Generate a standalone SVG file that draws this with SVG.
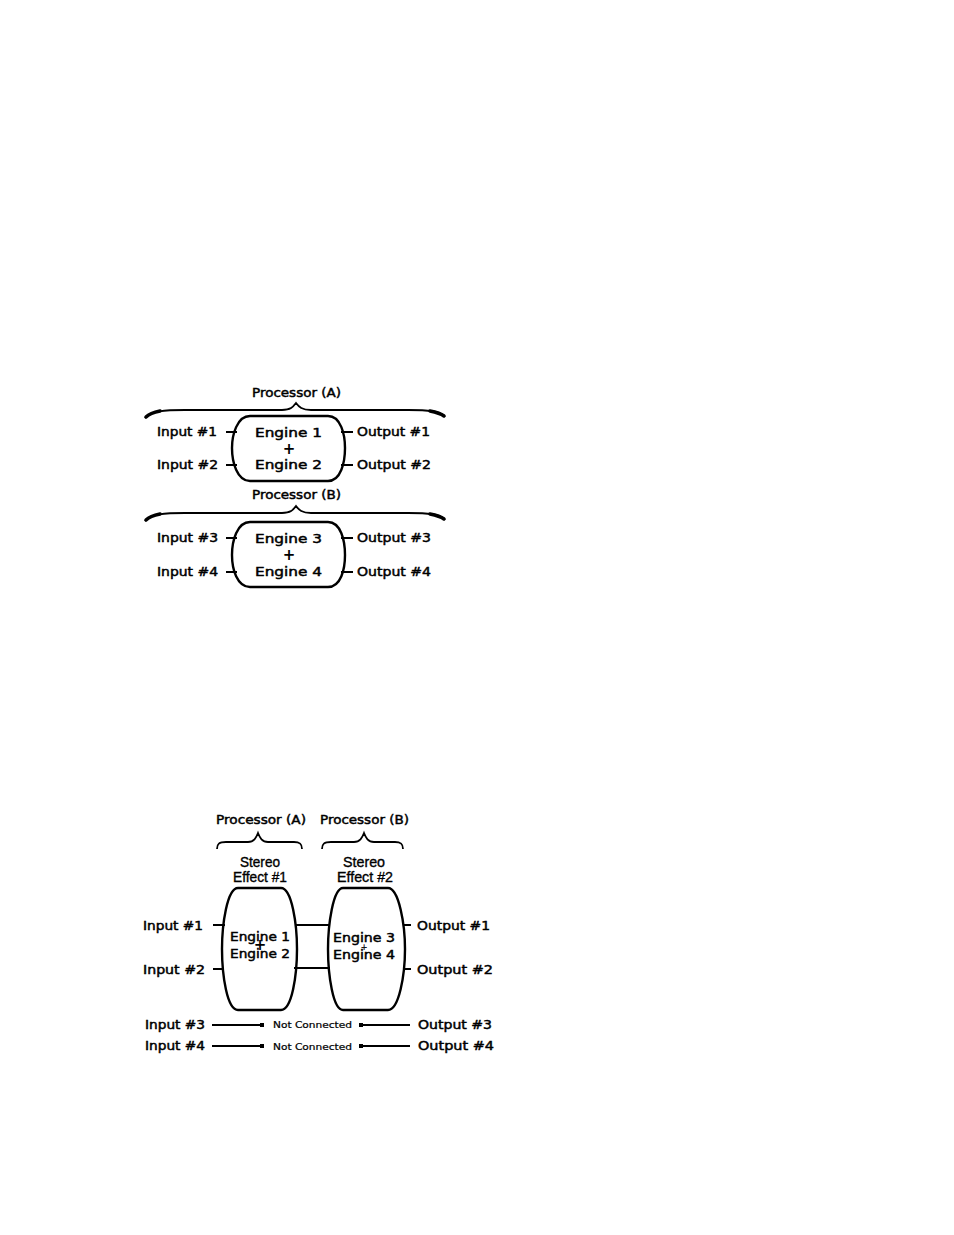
<svg xmlns="http://www.w3.org/2000/svg" width="954" height="1235" viewBox="0 0 954 1235">
<style>
.t{font-family:"DejaVu Sans","Liberation Sans",sans-serif;font-size:11.5px;fill:#000;stroke:#000;stroke-width:0.45}
.p{font-family:"DejaVu Sans","Liberation Sans",sans-serif;font-size:15px;font-weight:bold;fill:#000}
.c{font-family:"Liberation Sans",sans-serif;font-size:14.5px;fill:#000;stroke:#000;stroke-width:0.35}
.s{font-family:"DejaVu Sans","Liberation Sans",sans-serif;font-size:8px;fill:#000;stroke:#000;stroke-width:0.2}
.shape{fill:#fff;stroke:#000;stroke-width:2.4}
.ln{stroke:#000;stroke-width:2;fill:none}
.br{stroke:#000;stroke-width:1.8;fill:none}
.bt{stroke:#000;stroke-width:3.5;fill:none;stroke-linecap:round}
</style>
<rect width="954" height="1235" fill="#fff"/>

<!-- Top diagram: Processor A -->
<g id="procA-label"><text class="t" x="252" y="397" textLength="89" lengthAdjust="spacingAndGlyphs">Processor (A)</text></g>
<g id="procA-brace">
<path class="br" d="M145,418 C150,411 165,410 185,410 L282,410 C291,410 293,407 296,403 C299,407 302,410 311,410 L408,410 C428,410 440,411 445,417"/>
<path class="bt" d="M146,417 C150,413 155,412 160,411"/>
<path class="bt" d="M444,416 C440,413 435,412 430,411"/>
</g>
<g id="engA">
<path class="shape" d="M250,416 L328,416 C341,416 345,435 345,448 C345,462 341,481 328,481 L250,481 C237,481 232,462 232,448 C232,435 237,416 250,416 Z"/>
<text class="t" x="255" y="437" textLength="67" lengthAdjust="spacingAndGlyphs">Engine 1</text>
<text class="p" x="289" y="454" text-anchor="middle">+</text>
<text class="t" x="255" y="469" textLength="67" lengthAdjust="spacingAndGlyphs">Engine 2</text>
</g>
<g id="inA1"><text class="t" x="157" y="436" textLength="60" lengthAdjust="spacingAndGlyphs">Input #1</text></g>
<g id="inA2"><text class="t" x="157" y="469" textLength="61" lengthAdjust="spacingAndGlyphs">Input #2</text></g>
<g id="outA1"><text class="t" x="357" y="436" textLength="73" lengthAdjust="spacingAndGlyphs">Output #1</text></g>
<g id="outA2"><text class="t" x="357" y="469" textLength="74" lengthAdjust="spacingAndGlyphs">Output #2</text></g>

<!-- Top diagram: Processor B -->
<g id="procB-label"><text class="t" x="252" y="499" textLength="89" lengthAdjust="spacingAndGlyphs">Processor (B)</text></g>
<g id="procB-brace">
<path class="br" d="M145,521 C150,514 165,513 185,513 L282,513 C291,513 293,510 296,506 C299,510 302,513 311,513 L408,513 C428,513 440,514 445,520"/>
<path class="bt" d="M146,520 C150,516 155,515 160,514"/>
<path class="bt" d="M444,519 C440,516 435,515 430,514"/>
</g>
<g id="engB">
<path class="shape" d="M250,522 L328,522 C341,522 345,541 345,555 C345,569 341,587 328,587 L250,587 C237,587 232,569 232,555 C232,541 237,522 250,522 Z"/>
<text class="t" x="255" y="543" textLength="67" lengthAdjust="spacingAndGlyphs">Engine 3</text>
<text class="p" x="289" y="560" text-anchor="middle">+</text>
<text class="t" x="255" y="576" textLength="67" lengthAdjust="spacingAndGlyphs">Engine 4</text>
</g>
<g id="inB3"><text class="t" x="157" y="542" textLength="61" lengthAdjust="spacingAndGlyphs">Input #3</text></g>
<g id="inB4"><text class="t" x="157" y="576" textLength="61" lengthAdjust="spacingAndGlyphs">Input #4</text></g>
<g id="outB3"><text class="t" x="357" y="542" textLength="74" lengthAdjust="spacingAndGlyphs">Output #3</text></g>
<g id="outB4"><text class="t" x="357" y="576" textLength="74" lengthAdjust="spacingAndGlyphs">Output #4</text></g>

<!-- Bottom diagram -->
<g id="procA2-label"><text class="t" x="216" y="824" textLength="90" lengthAdjust="spacingAndGlyphs">Processor (A)</text></g>
<g id="procB2-label"><text class="t" x="320" y="824" textLength="89" lengthAdjust="spacingAndGlyphs">Processor (B)</text></g>
<g id="procA2-brace"><path class="br" d="M217,849 C217,844 219,842 226,842 L248,842 C254,842 256,838 258,833 C260,838 262,842 268,842 L294,842 C300,842 302,844 302,849"/></g>
<g id="procB2-brace"><path class="br" d="M322,849 C322,844 324,842 331,842 L354,842 C360,842 362,838 364,833 C366,838 368,842 374,842 L395,842 C401,842 403,844 403,849"/></g>

<g id="fx1">
<text class="c" x="260" y="867" text-anchor="middle" textLength="40" lengthAdjust="spacingAndGlyphs">Stereo</text>
<text class="c" x="260" y="882" text-anchor="middle" textLength="54" lengthAdjust="spacingAndGlyphs">Effect #1</text>
<path class="shape" d="M238,888 L281,888 C292,888 297,925 297,949 C297,975 292,1010 281,1010 L238,1010 C227,1010 222,975 222,949 C222,925 227,888 238,888 Z"/>
<text class="t" x="230" y="941" textLength="60" lengthAdjust="spacingAndGlyphs">Engine 1</text>
<text class="p" x="260" y="950" text-anchor="middle" font-size="13">+</text>
<text class="t" x="230" y="958" textLength="60" lengthAdjust="spacingAndGlyphs">Engine 2</text>
</g>
<g id="fx2">
<text class="c" x="364" y="867" text-anchor="middle" textLength="42" lengthAdjust="spacingAndGlyphs">Stereo</text>
<text class="c" x="365" y="882" text-anchor="middle" textLength="56" lengthAdjust="spacingAndGlyphs">Effect #2</text>
<path class="shape" d="M343,888 L388,888 C399,888 405,925 405,949 C405,975 399,1010 388,1010 L343,1010 C333,1010 328,975 328,949 C328,925 333,888 343,888 Z"/>
<text class="t" x="333" y="942" textLength="62" lengthAdjust="spacingAndGlyphs">Engine 3</text>
<text class="s" x="364" y="950" text-anchor="middle" font-size="10">+</text>
<text class="t" x="333" y="959" textLength="62" lengthAdjust="spacingAndGlyphs">Engine 4</text>
</g>

<g id="in1"><text class="t" x="143" y="930" textLength="60" lengthAdjust="spacingAndGlyphs">Input #1</text></g>
<g id="in2"><text class="t" x="143" y="974" textLength="62" lengthAdjust="spacingAndGlyphs">Input #2</text></g>
<g id="out1"><text class="t" x="417" y="930" textLength="73" lengthAdjust="spacingAndGlyphs">Output #1</text></g>
<g id="out2"><text class="t" x="417" y="974" textLength="76" lengthAdjust="spacingAndGlyphs">Output #2</text></g>
<g id="in3"><text class="t" x="145" y="1029" textLength="60" lengthAdjust="spacingAndGlyphs">Input #3</text></g>
<g id="in4"><text class="t" x="145" y="1050" textLength="60" lengthAdjust="spacingAndGlyphs">Input #4</text></g>
<g id="out3"><text class="t" x="418" y="1029" textLength="74" lengthAdjust="spacingAndGlyphs">Output #3</text></g>
<g id="out4"><text class="t" x="418" y="1050" textLength="76" lengthAdjust="spacingAndGlyphs">Output #4</text></g>
<g id="nc3"><text class="s" x="273" y="1028" textLength="79" lengthAdjust="spacingAndGlyphs">Not Connected</text></g>
<g id="nc4"><text class="s" x="273" y="1050" textLength="79" lengthAdjust="spacingAndGlyphs">Not Connected</text></g>

<g id="connectors">
<line class="ln" x1="226" y1="432" x2="237" y2="432"/>
<line class="ln" x1="226" y1="465" x2="237" y2="465"/>
<line class="ln" x1="341" y1="432" x2="353" y2="432"/>
<line class="ln" x1="341" y1="465" x2="353" y2="465"/>
<line class="ln" x1="226" y1="538" x2="237" y2="538"/>
<line class="ln" x1="226" y1="572" x2="237" y2="572"/>
<line class="ln" x1="341" y1="538" x2="353" y2="538"/>
<line class="ln" x1="341" y1="572" x2="353" y2="572"/>
<line class="ln" x1="213" y1="925" x2="225" y2="925"/>
<line class="ln" x1="213" y1="969" x2="224" y2="969"/>
<line class="ln" x1="295" y1="925" x2="330" y2="925"/>
<line class="ln" x1="294" y1="968" x2="330" y2="968"/>
<line class="ln" x1="404" y1="925" x2="411" y2="925"/>
<line class="ln" x1="404" y1="969" x2="411" y2="969"/>
<line class="ln" x1="212" y1="1025" x2="262" y2="1025"/>
<rect x="260" y="1023" width="4" height="4"/>
<line class="ln" x1="361" y1="1025" x2="410" y2="1025"/>
<rect x="359" y="1023" width="4" height="4"/>
<line class="ln" x1="212" y1="1046" x2="262" y2="1046"/>
<rect x="260" y="1044" width="4" height="4"/>
<line class="ln" x1="361" y1="1046" x2="410" y2="1046"/>
<rect x="359" y="1044" width="4" height="4"/>
</g>
</svg>
